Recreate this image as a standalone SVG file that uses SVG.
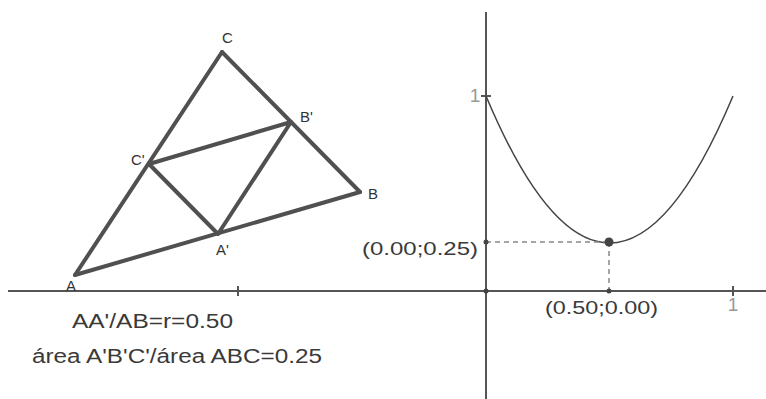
<svg xmlns="http://www.w3.org/2000/svg" width="766" height="399" viewBox="0 0 766 399">
<style>
.seg{stroke:#505050;stroke-width:4;fill:none;stroke-linecap:round;stroke-linejoin:round}
.axis{stroke:#555;stroke-width:2;fill:none}
.lbl{font-family:"Liberation Sans",Arial,sans-serif;font-size:15px;fill:#333}
.txt{font-family:"Liberation Sans",Arial,sans-serif;font-size:20px;fill:#3a3a3a}
.coord{font-family:"Liberation Sans",Arial,sans-serif;font-size:18px;fill:#3a3a3a}
.tick{font-family:"Liberation Sans",Arial,sans-serif;font-size:19px;fill:#999}
.dash{stroke:#888;stroke-width:1.5;stroke-dasharray:5 4;fill:none}
</style>
<rect width="766" height="399" fill="#fff"/>
<g id="axes">
<line class="axis" x1="8" y1="291" x2="766" y2="291"/>
<line class="axis" x1="486" y1="12" x2="486" y2="399"/>
<line class="axis" x1="238" y1="286" x2="238" y2="296" stroke-width="1.5"/>
<line class="axis" x1="733" y1="286" x2="733" y2="296" stroke-width="1.5"/>
<line class="axis" x1="481" y1="96" x2="491" y2="96" stroke-width="1.5"/>
<text class="tick" x="733" y="311" text-anchor="middle">1</text>
<text class="tick" x="475" y="102" text-anchor="middle">1</text>
</g>
<g id="connectors">
<line class="seg" x1="75" y1="275" x2="360" y2="192"/>
<line class="seg" x1="360" y1="192" x2="222" y2="52"/>
<line class="seg" x1="222" y1="52" x2="75" y2="275"/>
<polygon class="seg" points="218,234 291,122 149,164"/>
<path d="M486,96 Q609.5,390 733,96" fill="none" stroke="#444" stroke-width="1.5"/>
<line class="dash" x1="486" y1="242" x2="609" y2="242"/>
<line class="dash" x1="609" y1="242" x2="609" y2="291"/>
</g>
<g id="node-A"><text class="lbl" x="66" y="291">A</text></g>
<g id="node-B"><text class="lbl" x="368" y="199">B</text></g>
<g id="node-C"><text class="lbl" x="222" y="43">C</text></g>
<g id="node-A1"><text class="lbl" x="216" y="255">A'</text></g>
<g id="node-B1"><text class="lbl" x="300" y="122">B'</text></g>
<g id="node-C1"><text class="lbl" x="131" y="165">C'</text></g>
<g id="node-min">
<circle cx="609" cy="242" r="4.5" fill="#444"/>
<circle cx="486" cy="242" r="2.5" fill="#444"/>
<circle cx="609" cy="291" r="2.5" fill="#444"/>
<circle cx="486" cy="291" r="2.5" fill="#444"/>
<text class="coord" x="362" y="255" textLength="116" lengthAdjust="spacingAndGlyphs">(0.00;0.25)</text>
<text class="coord" x="545" y="314" textLength="113" lengthAdjust="spacingAndGlyphs">(0.50;0.00)</text>
</g>
<g id="texts">
<text class="txt" x="72" y="328" textLength="161" lengthAdjust="spacingAndGlyphs">AA'/AB=r=0.50</text>
<text class="txt" x="32" y="363" textLength="290" lengthAdjust="spacingAndGlyphs">área  A'B'C'/área ABC=0.25</text>
</g>
</svg>
